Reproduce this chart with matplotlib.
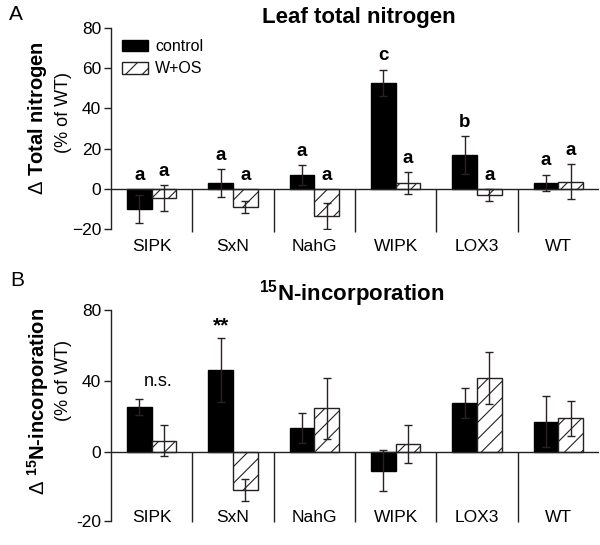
import matplotlib
matplotlib.use("Agg")
import matplotlib.pyplot as plt
import numpy as np

plt.rcParams['font.family'] = ['Liberation Sans', 'DejaVu Sans']
plt.rcParams['mathtext.fontset'] = 'custom'
plt.rcParams['mathtext.rm'] = 'Liberation Sans'
plt.rcParams['mathtext.bf'] = 'Liberation Sans:bold'
plt.rcParams['hatch.linewidth'] = 0.8

categories = ['SIPK', 'SxN', 'NahG', 'WIPK', 'LOX3', 'WT']
series = ['control', 'W+OS']

# Panel A: leaf total nitrogen (% of WT)
a_control = [-10.0, 3.0, 7.0, 52.8, 16.9, 3.1]
a_control_err = [7.0, 7.0, 5.0, 6.5, 9.5, 4.0]
a_wos = [-4.5, -9.0, -13.4, 2.8, -3.0, 3.5]
a_wos_err = [6.5, 3.0, 6.5, 5.5, 3.0, 8.7]
a_letters_control = ['a', 'a', 'a', 'c', 'b', 'a']
a_letters_wos = ['a', 'a', 'a', 'a', 'a', 'a']

# Panel B: 15N incorporation (% of WT)
b_control = [25.4, 46.0, 13.2, -10.9, 27.6, 16.9]
b_control_err = [4.5, 18.0, 8.4, 11.6, 8.4, 14.5]
b_wos = [6.2, -21.6, 24.4, 4.3, 41.7, 18.8]
b_wos_err = [8.6, 6.0, 17.0, 10.5, 14.7, 10.0]

W = 600 / 100
H = 545 / 100
fig = plt.figure(figsize=(W, H), dpi=100)

def fx(px):
    return px / 600

def fy(py):
    return 1 - py / 545

axA = fig.add_axes([fx(111), fy(229), fx(599) - fx(111), fy(28) - fy(229)])
axB = fig.add_axes([fx(111), fy(520.7), fx(599) - fx(111), fy(310) - fy(520.7)])

x = np.arange(len(categories))
bw = 0.305
ecol = '#2a2220'
ekw = dict(ecolor=ecol, elinewidth=1.0, capsize=3.2, capthick=1.0)


def draw_panel(ax, ctrl, ctrl_err, wos, wos_err, ylim, sep_bottom):
    ax.bar(x - bw / 2, ctrl, bw, yerr=ctrl_err, color='black', edgecolor='black',
           linewidth=1.0, error_kw=ekw, label=series[0], zorder=2)
    ax.bar(x + bw / 2, wos, bw, yerr=wos_err, color='white', edgecolor='#222222',
           hatch='//', linewidth=1.0, error_kw=ekw, label=series[1], zorder=2)
    ax.set_xlim(-0.5, len(categories) - 0.5)
    ax.set_ylim(*ylim)
    ax.axhline(0, color='#222222', linewidth=1.0, zorder=3)
    ax.vlines(x[:-1] + 0.5, sep_bottom, 0, color='#222222', linewidth=1.0,
              clip_on=False, zorder=3)
    for s in ['top', 'right', 'bottom']:
        ax.spines[s].set_visible(False)
    ax.spines['left'].set_linewidth(1.0)
    ax.spines['left'].set_color('#222222')
    ax.tick_params(axis='y', length=5, width=1.0, labelsize=12.5, pad=2, color='#222222')
    ax.set_xticks(x, categories)
    ax.tick_params(axis='x', length=0, labelsize=12.5)


# Panel A
draw_panel(axA, a_control, a_control_err, a_wos, a_wos_err, (-20, 80), -21.3)
axA.set_yticks([-20, 0, 20, 40, 60, 80])
axA.tick_params(axis='x', pad=7.5)
for i in range(len(categories)):
    top_c = max(a_control[i] + a_control_err[i], 0)
    top_w = max(a_wos[i] + a_wos_err[i], 0)
    axA.text(x[i] - bw / 2, top_c + 6.8, a_letters_control[i], ha='center', va='center',
             fontsize=13.5, fontweight='bold')
    axA.text(x[i] + bw / 2, top_w + 6.8, a_letters_wos[i], ha='center', va='center',
             fontsize=13.5, fontweight='bold')
axA.legend(loc='upper left', bbox_to_anchor=(0.0, 1.0), frameon=False, fontsize=11.5,
           handlelength=1.6, handleheight=0.75, handletextpad=0.45, labelspacing=0.45,
           borderaxespad=0.3, borderpad=0.4)
axA.set_title('Leaf total nitrogen', fontsize=16, fontweight='bold', x=0.508, pad=3)
axA.text(-0.1496, 0.55, r'$\Delta$ Total nitrogen', transform=axA.transAxes, rotation=90,
         ha='center', va='center', fontsize=14.5, fontweight='bold')
axA.text(-0.098, 0.58, '(% of WT)', transform=axA.transAxes, rotation=90,
         ha='center', va='center', fontsize=13)
fig.text(fx(16), fy(15), 'A', ha='center', va='center', fontsize=15)

# Panel B (lower axis segment is compressed in the original; bottom tick reads -20)
draw_panel(axB, b_control, b_control_err, b_wos, b_wos_err, (-39, 80), -40)
axB.set_yticks([-39, 0, 40, 80], ['-20', '0', '40', '80'])
axB.tick_params(axis='x', pad=-8)
axB.text(0.08, 39.4, 'n.s.', ha='center', va='center', fontsize=13)
axB.text(1 - bw / 2, 71.0, '**', ha='center', va='center', fontsize=15, fontweight='bold')
axB.set_title(r'$\mathbf{^{15}}$N-incorporation', fontsize=16, fontweight='bold',
              x=0.493, pad=7)
axB.text(-0.1496, 0.565, r'$\Delta$ $\mathbf{^{15}}$N-incorporation', transform=axB.transAxes,
         rotation=90, ha='center', va='center', fontsize=14.5, fontweight='bold')
axB.text(-0.098, 0.665, '(% of WT)', transform=axB.transAxes, rotation=90,
         ha='center', va='center', fontsize=13)
fig.text(fx(17), fy(280), 'B', ha='center', va='center', fontsize=15)

fig.savefig('out.png', dpi=100)
